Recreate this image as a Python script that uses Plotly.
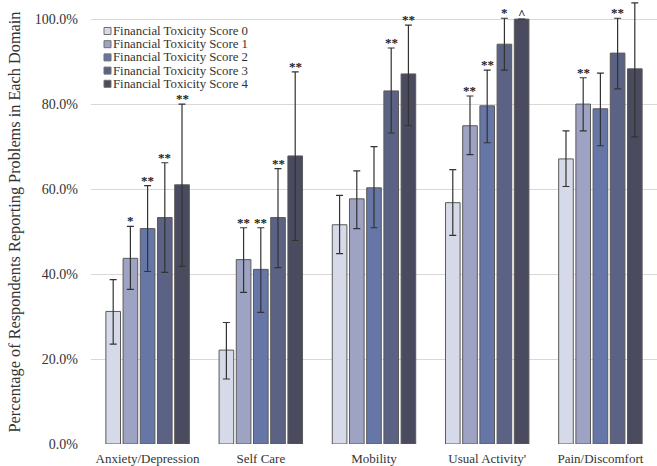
import plotly.graph_objects as go

domains = ["Anxiety/Depression", "Self Care", "Mobility", "Usual Activity'", "Pain/Discomfort"]
series_names = ["Financial Toxicity Score 0", "Financial Toxicity Score 1", "Financial Toxicity Score 2",
                "Financial Toxicity Score 3", "Financial Toxicity Score 4"]

score0 = [31.2, 22.1, 51.6, 56.8, 67.1]
score1 = [43.7, 43.4, 57.7, 74.9, 80.0]
score2 = [50.7, 41.1, 60.3, 79.6, 78.9]
score3 = [53.3, 53.3, 83.1, 94.1, 92.0]
score4 = [61.0, 67.8, 87.1, 100.0, 88.3]

upper0 = [38.7, 28.6, 58.5, 64.6, 73.7]
upper1 = [51.2, 50.9, 64.3, 81.9, 86.2]
upper2 = [60.8, 50.9, 70.0, 88.0, 87.3]
upper3 = [66.2, 64.8, 93.2, 100.2, 100.2]
upper4 = [80.0, 87.6, 98.6, 100.0, 103.8]

lower0 = [23.5, 15.3, 44.8, 49.1, 60.6]
lower1 = [36.4, 35.7, 50.7, 68.1, 73.7]
lower2 = [40.6, 31.0, 50.9, 70.9, 70.2]
lower3 = [40.4, 41.5, 73.2, 88.0, 83.6]
lower4 = [41.8, 47.9, 74.9, 100.0, 72.3]

sig0 = ["", "", "", "", ""]
sig1 = ["*", "**", "", "**", "**"]
sig2 = ["**", "**", "", "**", ""]
sig3 = ["**", "**", "**", "*", "**"]
sig4 = ["**", "**", "**", "^", ""]

y_tickvals = [0, 20, 40, 60, 80, 100]
y_ticktext = ["0.0%", "20.0%", "40.0%", "60.0%", "80.0%", "100.0%"]

colors = ["#D6D9E8", "#9EA3C4", "#6676A6", "#5B6284", "#4A4B5E"]

values = [score0, score1, score2, score3, score4]
uppers = [upper0, upper1, upper2, upper3, upper4]
lowers = [lower0, lower1, lower2, lower3, lower4]
sigs = [sig0, sig1, sig2, sig3, sig4]

FONT = "Liberation Serif"
TXT = "#333333"
BARGAP = 0.24
GROUPGAP = 0.15

fig = go.Figure()
for i in range(5):
    v = values[i]
    fig.add_trace(go.Bar(
        x=list(range(len(domains))), y=v, name=series_names[i],
        marker=dict(color=colors[i], line=dict(color="#5a5a5a", width=1)),
        error_y=dict(type="data", symmetric=False,
                     array=[u - a for u, a in zip(uppers[i], v)],
                     arrayminus=[a - l for a, l in zip(v, lowers[i])],
                     color="#333333", thickness=1.2, width=3.5),
        showlegend=False, hoverinfo="skip",
    ))

# significance markers above each error bar
slot = (1 - BARGAP) / 5
annotations = []
for i in range(5):
    for j in range(len(domains)):
        s = sigs[i][j]
        if s:
            annotations.append(dict(
                x=j + (i - 2) * slot, y=uppers[i][j], xref="x", yref="y",
                text="<b>" + s + "</b>", showarrow=False, yanchor="bottom", yshift=-4,
                font=dict(family=FONT, size=13, color="#222222")))

# legend drawn as compact rows
shapes = []
plot_w = 657 - 91
for i in range(5):
    py = 31 + i * 13.2
    yp = 1 - py / 444
    x0 = (104 - 91) / plot_w
    x1 = (111 - 91) / plot_w
    h = 3.5 / 444
    shapes.append(dict(type="rect", xref="paper", yref="paper", x0=x0, x1=x1,
                       y0=yp - h, y1=yp + h, fillcolor=colors[i],
                       line=dict(color="#707070", width=1)))
    annotations.append(dict(x=(111 - 91) / plot_w, y=yp, xref="paper", yref="paper",
                            text=series_names[i], showarrow=False, xanchor="left",
                            yanchor="middle", font=dict(family=FONT, size=12.8, color=TXT)))

fig.update_layout(
    width=657, height=466,
    margin=dict(l=91, r=0, t=0, b=22),
    paper_bgcolor="white", plot_bgcolor="white",
    barmode="group", bargap=BARGAP, bargroupgap=GROUPGAP,
    font=dict(family=FONT, color=TXT, size=12),
    annotations=annotations, shapes=shapes,
    xaxis=dict(tickmode="array", tickvals=list(range(len(domains))), ticktext=domains,
               range=[-0.5, len(domains) - 0.5], showgrid=False, zeroline=False,
               showline=False, ticks="", tickfont=dict(family=FONT, size=13, color=TXT),
               ticklabelstandoff=5),
    yaxis=dict(range=[0, 104.5], tickvals=y_tickvals, ticktext=y_ticktext,
               showgrid=True, gridcolor="#DCD6D6", gridwidth=1, zeroline=False,
               showline=False, ticks="", ticklabelstandoff=12,
               tickfont=dict(family=FONT, size=14, color=TXT),
               title=dict(text="Percentage of Respondents Reporting Problems in Each Domain",
                          font=dict(family=FONT, size=16.3, color=TXT), standoff=10)),
)

fig.write_html("out.html", config={"displayModeBar": False},
               post_script="document.body.style.margin='0';")
